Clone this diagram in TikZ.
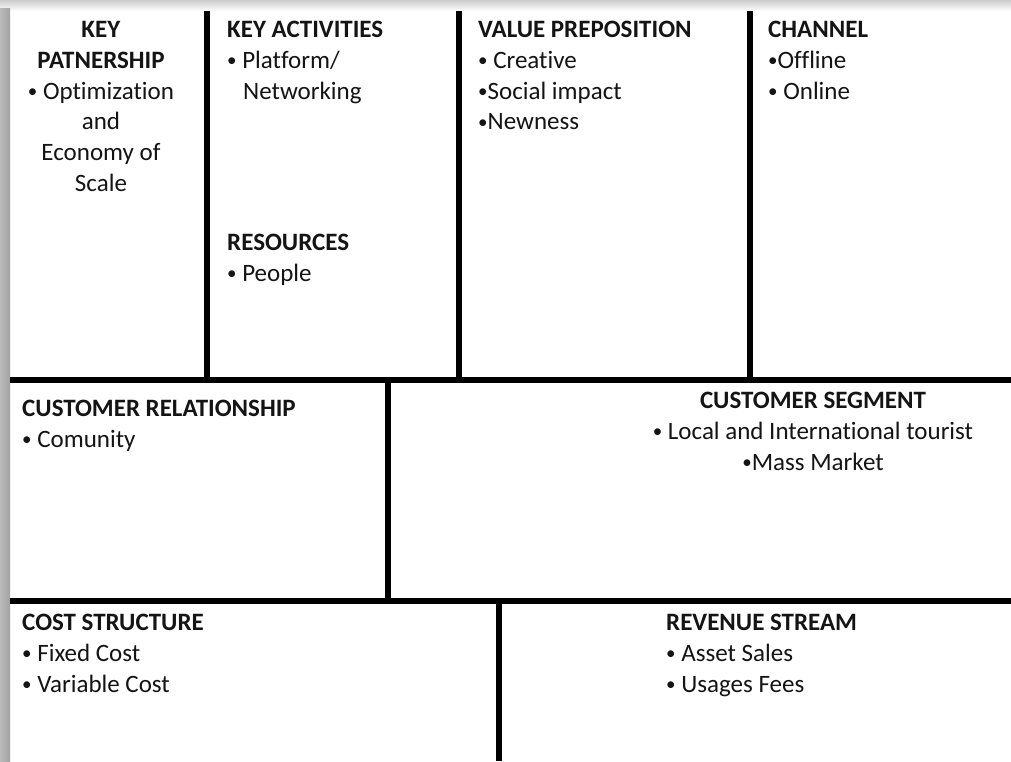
\documentclass[tikz,border=0pt]{standalone}
\usepackage{fontspec}
\setmainfont{Carlito}[Ligatures={NoCommon}]
\usepackage{tikz}
\usetikzlibrary{positioning}
\definecolor{bmText}{HTML}{141414}
\definecolor{bmEdge}{HTML}{A2A2A2}
% small list bullet
\newcommand{\bu}{\raisebox{1.5pt}{\fontsize{19}{19}\selectfont•}}

\begin{document}
\begin{tikzpicture}[x=1pt,y=-1pt,
  rule/.style={line width=6pt},
  t/.style={inner sep=0pt,anchor=north west,align=left,text=bmText,
            font=\fontsize{25}{30.8}\selectfont},
  tc/.style={t,anchor=north,align=center}]
\useasboundingbox (0,0) rectangle (1011,761);
\fill[white] (0,0) rectangle (1011,761);
% soft edge along the top and the left side
\shade[top color=black!20,bottom color=white] (0,0) rectangle (1011,11);
\shade[left color=bmEdge!75,right color=bmEdge] (0,8) rectangle (10,761);

% grid of the canvas
\draw[rule] (207,11) -- (207,380);
\draw[rule] (459,11) -- (459,380);
\draw[rule] (750,11) -- (750,380);
\draw[rule] (10,380) -- (1011,380);
\draw[rule] (388,380) -- (388,601);
\draw[rule] (10,601) -- (1011,601);
\draw[rule] (499,601) -- (499,761);

\node[tc] (part) at (101,21) {\textbf{KEY}\\\textbf{PATNERSHIP}\\\bu\ Optimization\\and\\Economy of\\Scale};
\node[t] (act)  at (227,21)  {\textbf{KEY ACTIVITIES}\\\bu\ Platform/\\\hspace*{16pt}Networking};
\node[t] (res)  at (227,234) {\textbf{RESOURCES}\\\bu\ People};
\node[t] (val)  at (478,21)  {\textbf{VALUE PREPOSITION}\\\bu\ Creative\\\bu Social impact\\\bu Newness};
\node[t] (chan) at (768,21)  {\textbf{CHANNEL}\\\bu Offline\\\bu\ Online};

\node[t] (rel)  at (22,400)  {\textbf{CUSTOMER RELATIONSHIP}\\\bu\ Comunity};
\node[tc] (seg) at (813,392) {\textbf{CUSTOMER SEGMENT}\\\bu\ Local and International tourist\\\bu Mass Market};

\node[t] (cost) at (22,614)  {\textbf{COST STRUCTURE}\\\bu\ Fixed Cost\\\bu\ Variable Cost};
\node[t] (rev)  at (666,614) {\textbf{REVENUE STREAM}\\\bu\ Asset Sales\\\bu\ Usages Fees};
\end{tikzpicture}
\end{document}
